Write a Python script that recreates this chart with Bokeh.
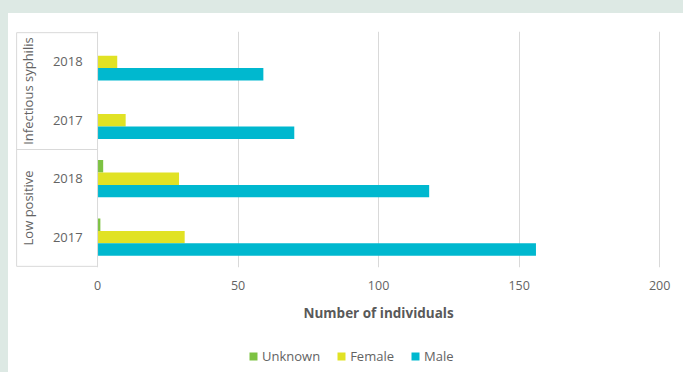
import math
from bokeh.plotting import figure
from bokeh.models import (FactorRange, Range1d, Legend, LegendItem, FixedTicker,
                          ColumnDataSource, Span)
from bokeh.core.properties import value
from bokeh.transform import dodge
from bokeh.layouts import column
from bokeh.embed import file_html
from bokeh.resources import INLINE

# ---- data ----
groups = ["Low positive", "Low positive", "Infectious syphilis", "Infectious syphilis"]
years = ["2017", "2018", "2017", "2018"]
unknown = [1, 2, 0, 0]
female = [31, 29, 10, 7]
male = [156, 118, 70, 59]
series = ["Unknown", "Female", "Male"]
colors = ["#7dc242", "#e1e224", "#00b8cf"]
group_names = ["Low positive", "Infectious syphilis"]
x_ticks = [0, 50, 100, 150, 200]
x_title = "Number of individuals"

FONT = "Open Sans"
TXT = "#636363"
LINE = "#d9d9d9"

factors = list(zip(groups, years))
src = ColumnDataSource(dict(cat=factors, yr=years, Unknown=unknown, Female=female, Male=male))

W = 675
H1, H2 = 285, 74
LABEL_LEFT = -28.8          # data-x of the left edge of the label box
X_START = LABEL_LEFT - 0.4
X_END = 208.5               # blank margin right of the 200 gridline

p = figure(width=W, height=H1, output_backend="svg", toolbar_location=None,
           y_range=FactorRange(*factors, group_padding=0, factor_padding=0, range_padding=0.01),
           x_range=Range1d(X_START, X_END),
           min_border_left=7, min_border_right=0, min_border_top=18, min_border_bottom=31)
p.outline_line_color = None
p.border_fill_color = "white"
p.yaxis.visible = False

bar_h = 0.213
offsets = [bar_h, 0.0, -bar_h]
for s, c, off in zip(series, colors, offsets):
    p.hbar(y=dodge("cat", off, range=p.y_range), left=0, right=s, height=bar_h,
           source=src, fill_color=c, line_color=None)

# grid
p.ygrid.grid_line_color = None
p.xgrid.ticker = FixedTicker(ticks=x_ticks[1:])
p.xgrid.grid_line_color = LINE
p.xgrid.grid_line_width = 1
p.add_layout(Span(location=0, dimension="height", line_color=LINE, line_width=1))

# label box lines (category boundaries in range units)
n = len(factors)
p.segment(x0=LABEL_LEFT, x1=0, y0=[0, n / 2, n], y1=[0, n / 2, n], line_color=LINE, line_width=1)
p.segment(x0=LABEL_LEFT, x1=LABEL_LEFT, y0=0, y1=n, line_color=LINE, line_width=1)

# category labels as text
p.text(x=-5.3, y="cat", text="yr", source=src, text_align="right", text_baseline="middle",
       text_font=value(FONT), text_font_size="13px", text_color=TXT)
gsrc = ColumnDataSource(dict(g=group_names))
p.text(x=-24.6, y="g", text="g", source=gsrc, angle=math.pi / 2, text_align="center",
       text_baseline="middle", text_font=value(FONT), text_font_size="13px", text_color=TXT)

# x axis (tick labels only; title goes in the strip below, centred on the value range)
xa = p.xaxis[0]
xa.ticker = FixedTicker(ticks=x_ticks)
xa.axis_line_color = None
xa.major_tick_line_color = None
xa.minor_tick_line_color = None
xa.major_tick_out = 0
xa.major_label_standoff = 13
xa.major_label_text_font = FONT
xa.major_label_text_font_size = "12.5px"
xa.major_label_text_color = TXT

# ---- strip below: axis title + legend ----
p2 = figure(width=W, height=H2, output_backend="svg", toolbar_location=None,
            x_range=p.x_range, y_range=Range1d(0, H2),
            min_border_left=7, min_border_right=0, min_border_top=0, min_border_bottom=0)
p2.axis.visible = False
p2.grid.visible = False
p2.outline_line_color = None
p2.border_fill_color = "white"

tsrc = ColumnDataSource(dict(x=[(x_ticks[0] + x_ticks[-1]) / 2], t=[x_title]))
p2.text(x="x", y=H2 - 14, text="t", source=tsrc, text_align="center", text_baseline="middle",
        text_font=value(FONT), text_font_size="13.5px", text_font_style="bold", text_color="#595959")

keys = []
for s, c in zip(series, colors):
    keys.append(p2.hbar(y=0, left=0, right=s, height=0, source=src, fill_color=c, line_color=None))

legend = Legend(items=[LegendItem(label=s, renderers=[r]) for s, r in zip(series, keys)],
                orientation="horizontal", location=(233, 7),
                glyph_width=10, glyph_height=10, label_standoff=4, spacing=16,
                padding=0, margin=0, border_line_color=None, background_fill_alpha=0,
                label_text_font=FONT, label_text_font_size="13px", label_text_color=TXT,
                label_height=14)
p2.add_layout(legend, "center")

layout = column(p, p2, spacing=0,
                styles={"background-color": "white",
                        "border-left": "8px solid #dde9e4", "border-top": "13px solid #dde9e4"})

open("out.html", "w").write(file_html(layout, INLINE))
